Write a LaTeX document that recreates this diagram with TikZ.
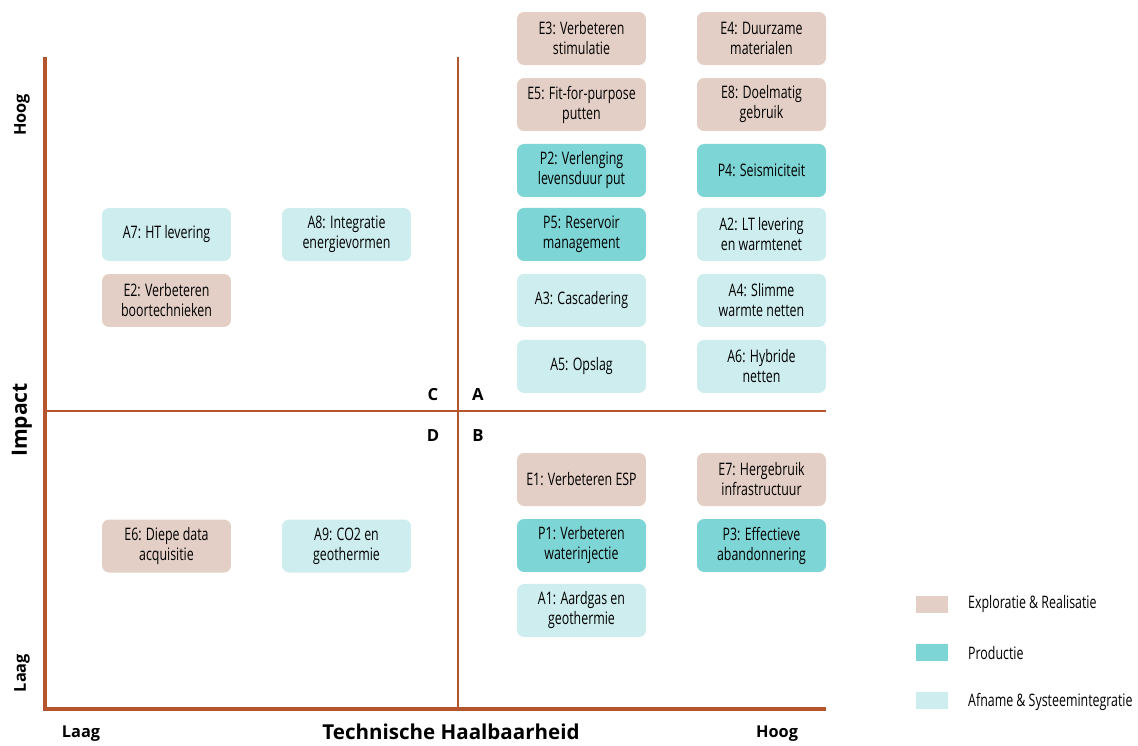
\documentclass[tikz,border=0pt]{standalone}
\usepackage{fontspec}
\setmainfont{Open Sans}
\newfontfamily\narrowfont[FakeStretch=0.72]{Open Sans}
\usetikzlibrary{positioning}

\definecolor{axisred}{HTML}{B5552E}
\definecolor{colexpl}{HTML}{E4CFC6}
\definecolor{colprod}{HTML}{7ED5D5}
\definecolor{colafn}{HTML}{CDEDEE}

\begin{document}
\begin{tikzpicture}[x=0.02cm,y=-0.02cm,node distance=1.32cm,
        item/.style={rounded corners=4pt,minimum width=2.58cm,minimum height=1.06cm,
          align=center,inner sep=1pt,font=\narrowfont\fontsize{9.8}{11.4}\selectfont},
        expl/.style={item,fill=colexpl},
        prod/.style={item,fill=colprod},
        afn/.style={item,fill=colafn},
        quad/.style={font=\bfseries\fontsize{9.5}{11}\selectfont},
        axlab/.style={font=\bfseries\fontsize{9.3}{10}\selectfont},
        legbox/.style={minimum width=0.64cm,minimum height=0.34cm,inner sep=0pt},
        legtext/.style={right,font=\narrowfont\fontsize{9.8}{11}\selectfont}]

  \useasboundingbox (0,0) rectangle (1138,745);

  % axes and quadrants
  \coordinate (top) at (45,57);
  \coordinate (origin) at (45,709);
  \coordinate (right) at (826,709);
  \coordinate (midtop) at (458,57);
  \coordinate (midbot) at (458,709);
  \coordinate (midleft) at (45,411);
  \coordinate (midright) at (826,411);
  \draw[axisred,line width=0.8pt] (midtop) -- (midbot);
  \draw[axisred,line width=0.8pt] (midleft) -- (midright);
  \draw[axisred,line width=2pt] (top) -- (origin) -- (right);

  \node[quad] (qc) at (433,395) {C};
  \node[quad] (qa) at (478,395) {A};
  \node[quad] (qd) at (433,436) {D};
  \node[quad] (qb) at (478,436) {B};

  \node[axlab,rotate=90] (yhigh) at (22,115) {Hoog};
  \node[rotate=90,font=\bfseries\fontsize{12}{14}\selectfont] (ylab) at (22,420) {Impact};
  \node[axlab,rotate=90] (ylow) at (22,673) {Laag};
  \node[axlab] (xlow) at (81,734) {Laag};
  \node[font=\bfseries\fontsize{11.7}{14}\selectfont] (xlab) at (451,732) {Technische Haalbaarheid};
  \node[axlab] (xhigh) at (777,734) {Hoog};

  % quadrant C
  \node[afn] (a7) at (166.5,234.5) {A7: HT levering};
  \node[expl] (e2) [below of=a7] {E2: Verbeteren\\boortechnieken};
  \node[afn] (a8) at (346.5,234.5) {A8: Integratie\\energievormen};

  % quadrant D
  \node[expl] (e6) at (166.5,546) {E6: Diepe data\\acquisitie};
  \node[afn] (a9) at (346.5,546) {A9: CO2 en\\geothermie};

  % quadrant A
  \node[expl] (e3) at (581.5,38.5) {E3: Verbeteren\\stimulatie};
  \node[expl] (e5) [below of=e3] {E5: Fit-for-purpose\\putten};
  \node[prod] (p2) [below of=e5] {P2: Verlenging\\levensduur put};
  \node[prod] (p5) [below of=p2,node distance=1.28cm] {P5: Reservoir\\management};
  \node[afn] (a3) [below of=p5] {A3: Cascadering};
  \node[afn] (a5) [below of=a3] {A5: Opslag};

  \node[expl] (e4) at (761.5,38.5) {E4: Duurzame\\materialen};
  \node[expl] (e8) [below of=e4] {E8: Doelmatig\\gebruik};
  \node[prod] (p4) [below of=e8] {P4: Seismiciteit};
  \node[afn] (a2) [below of=p4,node distance=1.28cm] {A2: LT levering\\en warmtenet};
  \node[afn] (a4) [below of=a2] {A4: Slimme\\warmte netten};
  \node[afn] (a6) [below of=a4] {A6: Hybride\\netten};

  % quadrant B
  \node[expl] (e1) at (581.5,479.5) {E1: Verbeteren ESP};
  \node[prod] (p1) [below of=e1] {P1: Verbeteren\\waterinjectie};
  \node[afn] (a1) [below of=p1,node distance=1.3cm] {A1: Aardgas en\\geothermie};

  \node[expl] (e7) at (761.5,479.5) {E7: Hergebruik\\infrastructuur};
  \node[prod] (p3) [below of=e7] {P3: Effectieve\\abandonnering};

  % legend
  \node[legbox,fill=colexpl] (legexpl) at (932,604.5) {};
  \node[legbox,fill=colprod] (legprod) at (932,652) {};
  \node[legbox,fill=colafn] (legafn) at (932,700.5) {};
  \node[legtext] (txtexpl) at (962,604.5) {Exploratie \& Realisatie};
  \node[legtext] (txtprod) at (962,653) {Productie};
  \node[legtext] (txtafn) at (962,702) {Afname \& Systeemintegratie};

\end{tikzpicture}
\end{document}
